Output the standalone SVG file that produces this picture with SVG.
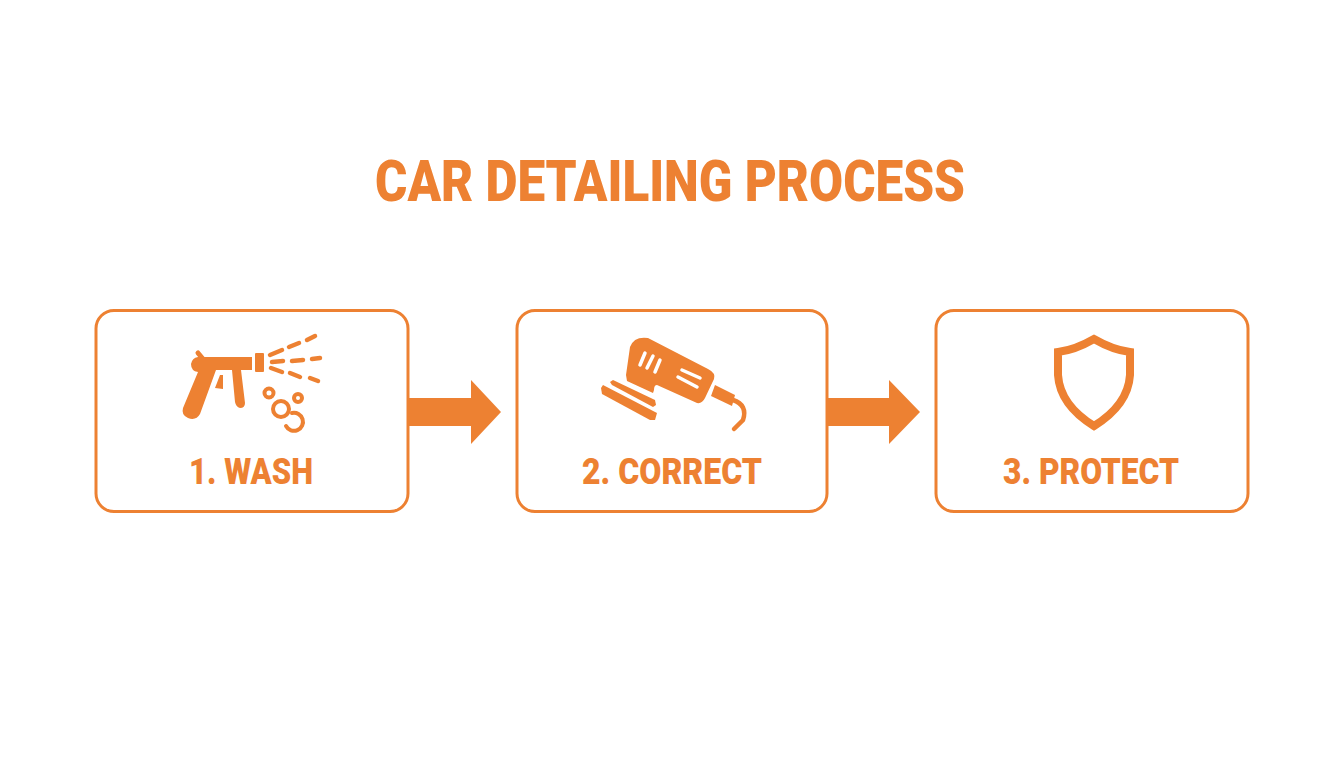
<svg xmlns="http://www.w3.org/2000/svg" width="1344" height="768" viewBox="0 0 1344 768">
<style>
.box{fill:#fff;stroke:#ED8132;stroke-width:3}
.f{fill:#ED8132}
.s{fill:none;stroke:#ED8132;stroke-linecap:round}
.w{fill:none;stroke:#fff;stroke-linecap:round;stroke-width:3.500}
text{font-family:"Roboto","Liberation Sans",sans-serif;font-weight:900;fill:#ED8132;text-anchor:middle}
.l{font-size:37px}
</style>
<rect width="1344" height="768" fill="#fff"/>
<text id="title" x="670" y="200.500" font-size="58" textLength="590" lengthAdjust="spacingAndGlyphs">CAR DETAILING PROCESS</text>
<g id="connectors">
<polygon class="f" points="408,398 471,398 471,380 501,412 471,444 471,426 408,426"/>
<polygon class="f" points="827,398 889,398 889,380 920,412 889,444 889,426 827,426"/>
</g>
<g id="node1">
<rect class="box" x="96" y="310.500" width="312" height="201" rx="18"/>
<path class="s" stroke-width="5" d="M198 353L203 359"/>
<path class="f" d="M198 357 L252 357 L252 370 L241 370 L245 403 Q245 408 240 408 Q236 407 235 402 L232 370 L216 370 L200 414 Q196 421 188 418 Q181 415 183 408 L198 372 Q191 371 191 364 Q192 358 198 357Z"/>
<polygon class="f" points="220,375 215,388 223,389 223,375"/>
<rect class="f" x="255" y="353" width="9" height="19" rx="1"/>
<g class="s" stroke-width="4.500">
<path d="M270 355L282 350M289 347L299 343M307 340L315 336"/>
<path d="M272 362L283 361M292 361L303 360M312 359L320 358"/>
<path d="M271 368L282 372M290 373L300 377M310 378L318 381"/>
</g>
<g class="s" stroke-width="4">
<circle cx="269" cy="393" r="4.500"/><circle cx="298" cy="398" r="4"/><circle cx="281" cy="409" r="8"/>
<path d="M292 413A9 9 0 1 1 286 426"/>
</g>
<text class="l" x="251" y="484" textLength="124" lengthAdjust="spacingAndGlyphs">1. WASH</text>
</g>
<g id="node2">
<rect class="box" x="517" y="310.500" width="310" height="201" rx="18"/>
<path class="f" d="M630 347 Q634 336 648 338 L708 369 Q716 373 714 379 L705 398 Q702 404 697 403 L657 385 Q654 385 654 390 L653 393 L627 381 L626 375Z"/>
<polygon class="f" points="613,380 655,400 656,405 653,407 612,385 610,382"/>
<polygon class="f" points="603,385 657,413 655,420 650,420 602,394 601,388"/>
<polygon class="f" points="715,385 735,395 732,406 711,396"/>
<path class="s" stroke-width="4.500" d="M733 400Q748 405 743 420L734 429"/>
<path class="w" d="M645 353L640 365M653 356L647 368M660 360L655 372"/>
<path class="w" d="M682 370L700 378M678 377L697 387"/>
<text class="l" x="672" y="484" textLength="180" lengthAdjust="spacingAndGlyphs">2. CORRECT</text>
</g>
<g id="node3">
<rect class="box" x="936" y="310.500" width="312" height="201" rx="18"/>
<path d="M1094 339 Q1075 350 1058 352 L1058 375 Q1060 405 1094 426 Q1128 405 1130 375 L1130 352 Q1113 350 1094 339Z" fill="none" stroke="#ED8132" stroke-width="8"/>
<text class="l" x="1091" y="484" textLength="176" lengthAdjust="spacingAndGlyphs">3. PROTECT</text>
</g>
</svg>
